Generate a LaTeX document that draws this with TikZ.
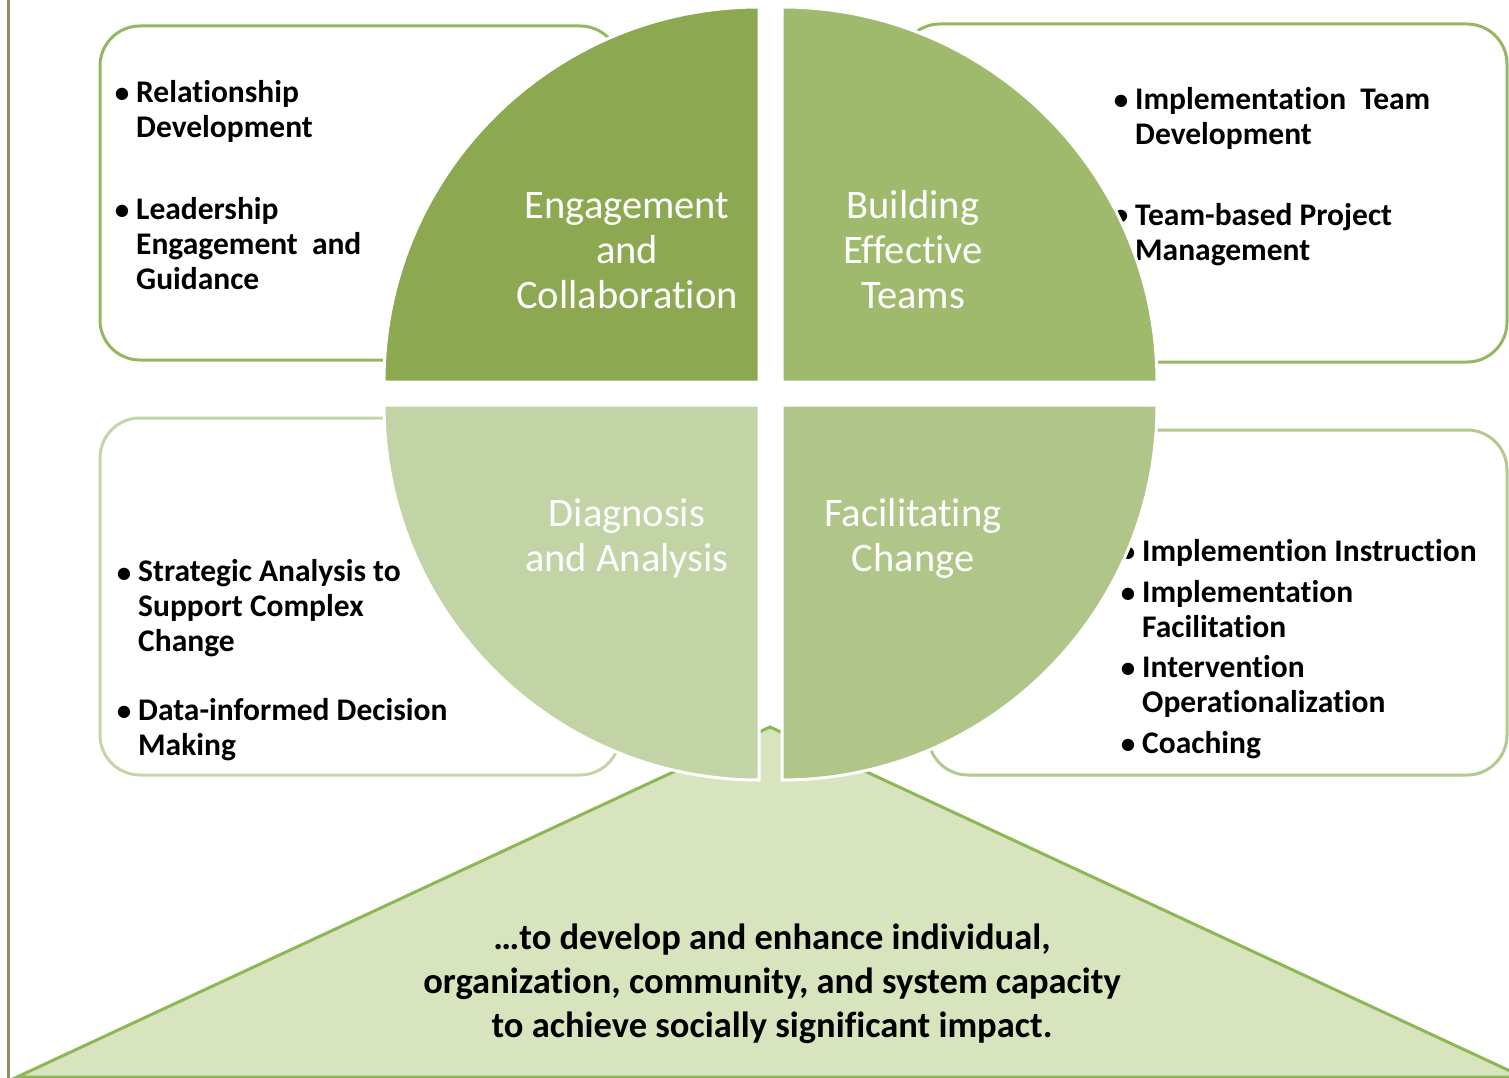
\documentclass[tikz,border=0pt]{standalone}
\usepackage{fontspec}
\setmainfont[Ligatures={NoCommon}]{Carlito}
\definecolor{qTL}{HTML}{8CA850}
\definecolor{qTR}{HTML}{9FBA6C}
\definecolor{qBL}{HTML}{C2D3A5}
\definecolor{qBR}{HTML}{B0C688}
\definecolor{triF}{HTML}{D7E4BD}
\definecolor{triS}{HTML}{8DB755}
\definecolor{bxA}{HTML}{94B761}
\definecolor{bxBL}{HTML}{C4D6A8}
\definecolor{bxBR}{HTML}{B3C98E}
\definecolor{edge}{HTML}{958E62}
\tikzset{
  item/.style={anchor=base west, align=left, inner sep=0pt, text=black,
    font=\bfseries\fontsize{31.5}{35}\selectfont},
  bul/.style={anchor=base, inner sep=0pt, text=black,
    font=\bfseries\fontsize{29}{35}\selectfont},
  qlabel/.style={anchor=base, align=center, inner sep=0pt, text=white,
    font=\fontsize{40.5}{45}\selectfont},
  infobox/.style={draw, line width=3pt, rounded corners=40pt, fill=white},
  quad/.style={draw=white, line width=3pt},
}
\begin{document}
\begin{tikzpicture}[x=1pt,y=-1pt]
\useasboundingbox (0,0) rectangle (1509,1078);
\fill[white] (0,0) rectangle (1509,1078);
\begin{scope}
\clip (0,0) rectangle (1509,1078);
% left edge line
\coordinate (ltop) at (8.5,0);
\coordinate (lbot) at (8.5,1078);
\draw[edge, line width=2.5pt] (ltop) -- (lbot);
% boxes
\draw[infobox, draw=bxA] (100,26) rectangle (620,360);
\draw[infobox, draw=bxA] (900,24) rectangle (1507,362);
\draw[infobox, draw=bxBL] (100,418) rectangle (620,775);
\draw[infobox, draw=bxBR] (928,430) rectangle (1507,775);
% top-left texts (anchor = baseline of last line)
\node[bul] (b1) at (122,103) {\textbullet};
\node[item] (t1) at (136,138) {Relationship\\Development};
\node[bul] (b2) at (122,219) {\textbullet};
\node[item] (t2) at (136,289) {Leadership\\Engagement\hspace{7pt} and\\Guidance};
% top-right texts
\node[bul] (b3) at (1121,110) {\textbullet};
\node[item] (t3) at (1135,145) {Implementation\hspace{7pt} Team\\Development};
\node[bul] (b4) at (1121,225) {\textbullet};
\node[item] (t4) at (1135,260) {Team-based Project\\Management};
% bottom-left texts
\node[bul] (b5) at (124,582) {\textbullet};
\node[item] (t5) at (138,651) {Strategic Analysis to\\Support Complex\\Change};
\node[bul] (b6) at (124,720) {\textbullet};
\node[item] (t6) at (138,755) {Data-informed Decision\\Making};
% bottom-right texts
\node[bul] (b7) at (1128,561) {\textbullet};
\node[item] (t7) at (1142,561) {Implemention Instruction};
\node[bul] (b8) at (1128,602) {\textbullet};
\node[item] (t8) at (1142,637) {Implementation\\Facilitation};
\node[bul] (b9) at (1128,677) {\textbullet};
\node[item] (t9) at (1142,712) {Intervention\\Operationalization};
\node[bul] (b10) at (1128,753) {\textbullet};
\node[item] (t10) at (1142,753) {Coaching};
% triangle
\draw[fill=triF, draw=triS, line width=3pt, line join=miter]
  (17,1077) -- (770,727) -- (1523,1077) -- cycle;
% quadrants
\draw[quad, fill=qTL] (759,382) -- (384,382) arc[start angle=180, end angle=90, radius=375pt] -- cycle;
\draw[quad, fill=qTR] (782,382) -- (782,7) arc[start angle=90, end angle=0, radius=375pt] -- cycle;
\draw[quad, fill=qBR] (782,405) -- (1157,405) arc[start angle=0, end angle=-90, radius=375pt] -- cycle;
\draw[quad, fill=qBL] (759,405) -- (759,780) arc[start angle=-90, end angle=-180, radius=375pt] -- cycle;
% quadrant labels (anchor = baseline of last line)
\node[qlabel] (q1) at (627,308) {Engagement\\and\\Collaboration};
\node[qlabel] (q2) at (913,308) {Building\\Effective\\Teams};
\node[qlabel] (q3) at (627,571) {Diagnosis\\and Analysis};
\node[qlabel] (q4) at (913,571) {Facilitating\\Change};
% bottom text
\node[anchor=base, align=center, inner sep=0pt, text=black,
  font=\bfseries\fontsize{36.5}{44}\selectfont] (bt) at (772,1037)
  {…to develop and enhance individual,\\organization, community, and system capacity\\to achieve socially significant impact.};
\end{scope}
\end{tikzpicture}
\end{document}
